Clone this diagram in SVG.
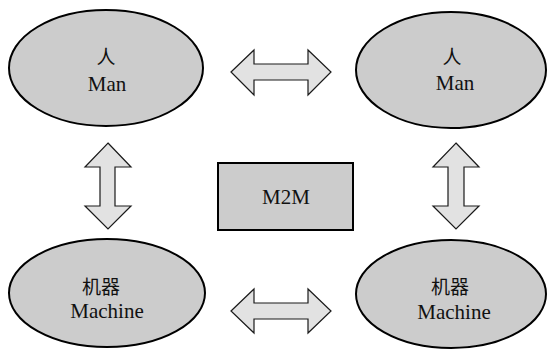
<svg xmlns="http://www.w3.org/2000/svg" width="547" height="355" viewBox="0 0 547 355">
  <style>
    .node { fill: #cccccc; stroke: #000; stroke-width: 2; }
    .arrow { fill: #e2e2e2; stroke: #1a1a1a; stroke-width: 1.2; stroke-linejoin: miter; }
    .lbl { font-family: "Liberation Serif", "Noto Sans CJK SC", serif; font-size: 21px; fill: #111; text-anchor: middle; }
    .cjk { font-family: "Noto Sans CJK SC", "Liberation Serif", serif; font-size: 19px; font-weight: 400; fill: #111; text-anchor: middle; }
  </style>
  <rect width="547" height="355" fill="#fff"/>

  <g id="man-left">
    <ellipse class="node" cx="106" cy="68" rx="97" ry="58"/>
    <text class="cjk" x="106" y="64">人</text>
    <text class="lbl" x="107" y="91">Man</text>
  </g>

  <g id="man-right">
    <ellipse class="node" cx="451" cy="70" rx="95" ry="58"/>
    <text class="cjk" x="452" y="64">人</text>
    <text class="lbl" x="455" y="90">Man</text>
  </g>

  <g id="machine-left">
    <ellipse class="node" cx="107" cy="293" rx="98" ry="54"/>
    <text class="cjk" x="101" y="294">机器</text>
    <text class="lbl" x="107" y="318">Machine</text>
  </g>

  <g id="machine-right">
    <ellipse class="node" cx="451" cy="294" rx="95" ry="54"/>
    <text class="cjk" x="450" y="294">机器</text>
    <text class="lbl" x="454" y="319">Machine</text>
  </g>

  <g id="m2m">
    <rect class="node" x="218" y="163" width="135" height="67"/>
    <text class="lbl" x="286" y="204">M2M</text>
  </g>

  <g id="connectors">
    <!-- top: Man <-> Man -->
    <polygon class="arrow" points="231,72 254,50 254,64 308,64 308,50 331,72 308,95 308,80 254,80 254,95"/>
    <!-- bottom: Machine <-> Machine -->
    <polygon class="arrow" points="231,311 254,289 254,303 308,303 308,289 331,311 308,333 308,319 254,319 254,333"/>
    <!-- left: Man <-> Machine -->
    <polygon class="arrow" points="108,143 131,167 115,167 115,206 131,206 108,229 85,206 100,206 100,167 85,167"/>
    <!-- right: Man <-> Machine -->
    <polygon class="arrow" points="456,143 479,167 464,167 464,206 479,206 456,229 433,206 448,206 448,167 433,167"/>
  </g>
</svg>
